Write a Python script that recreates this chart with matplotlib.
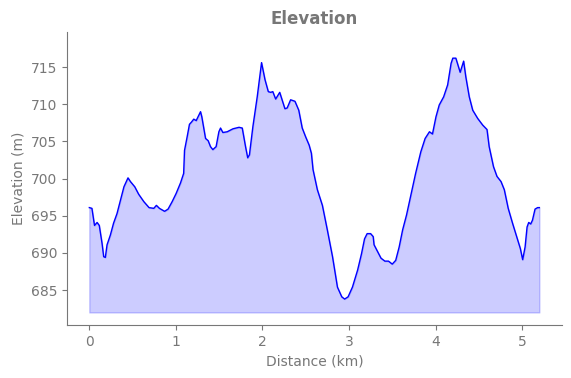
import matplotlib
matplotlib.use("Agg")
import matplotlib.pyplot as plt

# Perfil de elevación
distancia_km = [
    0.00, 0.03, 0.06, 0.09, 0.115, 0.147, 0.166, 0.185, 0.205, 0.243,
    0.28, 0.32, 0.36, 0.40, 0.447, 0.475, 0.525, 0.57, 0.63, 0.69,
    0.745, 0.775, 0.81, 0.87, 0.91, 0.957, 1.003, 1.053, 1.09, 1.10,
    1.13, 1.157, 1.18, 1.207, 1.235, 1.285, 1.30, 1.343, 1.373, 1.40,
    1.427, 1.465, 1.497, 1.516, 1.543, 1.593, 1.66, 1.73, 1.767, 1.805,
    1.83, 1.85, 1.89, 1.94, 1.99, 2.03, 2.068, 2.095, 2.12, 2.153,
    2.20, 2.26, 2.286, 2.326, 2.376, 2.42, 2.46, 2.50, 2.54, 2.566,
    2.585, 2.635, 2.693, 2.75, 2.81, 2.867, 2.917, 2.95, 2.99, 3.04,
    3.10, 3.145, 3.18, 3.21, 3.25, 3.28, 3.29, 3.33, 3.37, 3.415,
    3.457, 3.50, 3.54, 3.58, 3.62, 3.665, 3.715, 3.77, 3.83, 3.88,
    3.93, 3.965, 4.005, 4.043, 4.094, 4.14, 4.18, 4.20, 4.235, 4.285,
    4.325, 4.35, 4.39, 4.43, 4.487, 4.545, 4.595, 4.62, 4.67, 4.71,
    4.757, 4.795, 4.84, 4.89, 4.95, 4.98, 5.007, 5.035, 5.058, 5.077,
    5.10, 5.12, 5.15, 5.18, 5.20,
]
elevacion_m = [
    696.1, 696.0, 693.7, 694.1, 693.7, 691.3, 689.5, 689.4, 691.1, 692.4,
    694.0, 695.3, 697.1, 698.9, 700.1, 699.6, 698.9, 697.9, 696.9, 696.1,
    696.0, 696.4, 696.0, 695.6, 695.9, 696.9, 698.0, 699.4, 700.7, 703.8,
    705.6, 707.3, 707.6, 708.0, 707.8, 709.0, 708.3, 705.4, 705.1, 704.3,
    703.9, 704.3, 706.3, 706.8, 706.2, 706.3, 706.7, 706.9, 706.8, 704.3,
    702.8, 703.2, 707.0, 711.0, 715.6, 713.3, 711.7, 711.6, 711.7, 710.7,
    711.6, 709.4, 709.5, 710.6, 710.4, 709.2, 706.8, 705.6, 704.5, 703.4,
    701.2, 698.5, 696.4, 693.1, 689.5, 685.4, 684.1, 683.8, 684.1, 685.4,
    687.7, 689.9, 691.9, 692.6, 692.6, 692.2, 691.1, 690.2, 689.3, 688.9,
    688.9, 688.5, 689.0, 690.8, 693.1, 695.1, 697.8, 700.7, 703.6, 705.4,
    706.3, 706.0, 708.3, 709.9, 711.0, 712.6, 715.5, 716.2, 716.2, 714.3,
    715.8, 713.7, 711.0, 709.2, 708.1, 707.2, 706.6, 704.3, 701.6, 700.3,
    699.6, 698.5, 696.0, 694.0, 691.7, 690.6, 689.1, 690.8, 693.5, 694.1,
    693.9, 694.4, 695.9, 696.1, 696.1,
]
base_relleno = 682.0

GRIS = "#777777"

fig = plt.figure(figsize=(5.71, 3.78), dpi=100)
ax = fig.add_axes([0.117, 0.14, 0.867, 0.775])

ax.fill_between(distancia_km, elevacion_m, base_relleno, color="blue", alpha=0.2)
ax.plot(distancia_km, elevacion_m, color="blue", linewidth=1.0)

ax.set_xlim(-0.26, 5.46)
ax.set_ylim(680.3, 719.7)
ax.set_yticks([685, 690, 695, 700, 705, 710, 715])
ax.set_xticks([0, 1, 2, 3, 4, 5])

ax.set_title("Elevation", fontsize=12, fontweight="bold", color=GRIS)
ax.set_xlabel("Distance (km)", color=GRIS)
ax.set_ylabel("Elevation (m)", color=GRIS)

for lado in ["top", "right"]:
    ax.spines[lado].set_visible(False)
for lado in ["left", "bottom"]:
    ax.spines[lado].set_color(GRIS)
ax.tick_params(colors=GRIS, labelcolor=GRIS)

fig.savefig("out.png", dpi=100)
